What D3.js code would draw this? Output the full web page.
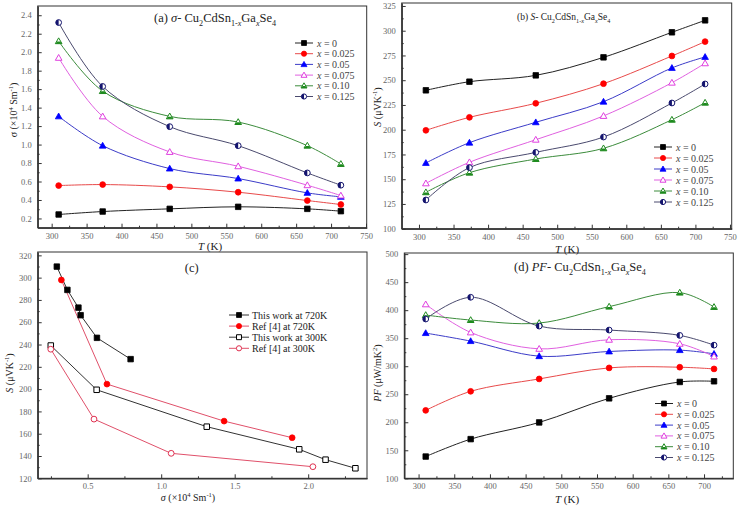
<!DOCTYPE html>
<html><head><meta charset="utf-8">
<script src="https://cdn.jsdelivr.net/npm/d3@7"></script>
<style>
body{margin:0;background:#fff}
text{font-family:"Liberation Serif","Times New Roman",serif}
</style>
</head><body>
<svg id="chart" width="739" height="508"></svg>
<script>
// ---------- DATA ----------
const temps = [310, 373, 469, 567, 666, 714];
const seriesLabels = ["0", "0.025", "0.05", "0.075", "0.10", "0.125"];

const sigmaSeries = [
  [0.243, 0.275, 0.304, 0.326, 0.304, 0.279],
  [0.556, 0.567, 0.542, 0.484, 0.394, 0.351],
  [1.305, 0.988, 0.740, 0.632, 0.477, 0.434],
  [1.939, 1.305, 0.920, 0.765, 0.560, 0.448],
  [2.119, 1.579, 1.305, 1.244, 0.988, 0.790],
  [2.321, 1.629, 1.194, 0.988, 0.693, 0.560]
];
const seebeckSeries = [
  [239.8, 248.5, 254.9, 273.1, 298.4, 310.5],
  [199.4, 212.5, 226.7, 246.5, 274.5, 289.0],
  [166.4, 186.9, 207.5, 228.3, 262.4, 273.5],
  [145.8, 167.1, 189.9, 213.9, 247.5, 267.1],
  [136.8, 156.6, 170.4, 181.2, 210.1, 227.3],
  [129.0, 161.7, 177.1, 192.6, 227.0, 246.2]
];
const pfSeries = [
  [138.8, 169.9, 199.7, 242.7, 271.9, 273.1],
  [221.2, 255.2, 277.3, 297.0, 298.2, 295.2],
  [359.1, 344.8, 317.9, 326.3, 328.7, 322.1],
  [410.4, 360.3, 331.0, 347.2, 340.0, 317.3],
  [391.3, 382.4, 377.0, 406.3, 431.3, 405.7],
  [384.2, 423.0, 371.6, 364.5, 355.0, 337.6]
];

// panel (c)
const cLabels = ["This work at 720K", "Ref [4] at 720K", "This work at 300K", "Ref [4] at 300K"];
const this720Sigma = [0.290, 0.362, 0.437, 0.452, 0.563, 0.792];
const this720S     = [309.9, 289.0, 273.1, 266.3, 246.0, 226.9];
const ref720Sigma  = [0.321, 0.631, 1.428, 1.891];
const ref720S      = [297.9, 204.5, 171.3, 156.4];
const this300Sigma = [0.249, 0.561, 1.310, 1.939, 2.118, 2.321];
const this300S     = [239.1, 199.4, 166.3, 146.0, 136.7, 129.0];
const ref300Sigma  = [0.249, 0.543, 1.068, 2.032];
const ref300S      = [235.8, 173.1, 142.4, 130.4];

// ticks
const tempTicksAB = [300, 350, 400, 450, 500, 550, 600, 650, 700, 750];
const tempTicksD  = [300, 350, 400, 450, 500, 550, 600, 650, 700];
const sigmaTicks  = [0.2, 0.4, 0.6, 0.8, 1.0, 1.2, 1.4, 1.6, 1.8, 2.0, 2.2, 2.4];
const seebeckTicks = [100, 125, 150, 175, 200, 225, 250, 275, 300, 325];
const cYTicks = [120, 140, 160, 180, 200, 220, 240, 260, 280, 300, 320];
const cXTicks = [0.5, 1.0, 1.5, 2.0];
const pfTicks = [100, 150, 200, 250, 300, 350, 400, 450, 500];

// ---------- STYLES ----------
const seriesStyle = [
  {stroke: "#000000", line: "#222222", shape: "square", fill: "full"},
  {stroke: "#ff0000", line: "#e84a4a", shape: "circle", fill: "full"},
  {stroke: "#0000ff", line: "#3c3cc8", shape: "triangle", fill: "full"},
  {stroke: "#e040e0", line: "#e060e0", shape: "triangle", fill: "open"},
  {stroke: "#1e8a1e", line: "#3c8c3c", shape: "triangle", fill: "half"},
  {stroke: "#14146e", line: "#4a4a6e", shape: "circle", fill: "half"}
];
const cStyle = [
  {stroke: "#000000", line: "#333333", shape: "square", fill: "full"},
  {stroke: "#ff0000", line: "#e0506a", shape: "circle", fill: "full"},
  {stroke: "#000000", line: "#333333", shape: "square", fill: "open"},
  {stroke: "#e03050", line: "#e0506a", shape: "circle", fill: "open"}
];

const svg = d3.select("#chart");
svg.append("rect").attr("width", 739).attr("height", 508).attr("fill", "#fff");

// ---------- HELPERS ----------
function marker(g, cx, cy, st, r) {
  r = r || 2.9;
  const m = g.append("g").attr("transform", `translate(${cx},${cy})`);
  let outline, half;
  if (st.shape === "square") {
    const s = r * 0.95;
    outline = `M${-s},${-s}H${s}V${s}H${-s}Z`;
    half = `M${-s},${-s}H0V${s}H${-s}Z`;
  } else if (st.shape === "circle") {
    outline = `M0,${-r}A${r},${r} 0 1,1 0,${r}A${r},${r} 0 1,1 0,${-r}Z`;
    half = `M0,${-r}A${r},${r} 0 0,0 0,${r}Z`;
  } else {
    const h1 = r * 1.15, h2 = r * 0.85, s = r * 1.15;
    outline = `M0,${-h1}L${s},${h2}L${-s},${h2}Z`;
    half = `M${-s*0.45},${h2*0.1}L${s*0.45},${h2*0.1}L${s},${h2}L${-s},${h2}Z`;
  }
  if (st.fill === "full") {
    m.append("path").attr("d", outline).attr("fill", st.stroke).attr("stroke", st.stroke).attr("stroke-width", 0.8);
  } else {
    m.append("path").attr("d", outline).attr("fill", "#fff");
    if (st.fill === "half") m.append("path").attr("d", half).attr("fill", st.stroke);
    m.append("path").attr("d", outline).attr("fill", "none").attr("stroke", st.stroke).attr("stroke-width", 1);
  }
}

// parts: [text, mode] mode: "" normal, "i" italic, "sub", "subi", "sup"
function rich(g, x, y, parts, size, anchor, rotate, color) {
  const t = g.append("text").attr("x", x).attr("y", y)
    .attr("font-size", size).attr("text-anchor", anchor || "start")
    .attr("fill", color || "#222");
  if (rotate) t.attr("transform", `rotate(${rotate},${x},${y})`);
  let shift = 0;
  parts.forEach(([txt, mode]) => {
    const sp = t.append("tspan").text(txt);
    let target = 0, fs = size;
    if (mode === "sub" || mode === "subi") { target = size * 0.3; fs = size * 0.65; }
    if (mode === "sup") { target = -size * 0.4; fs = size * 0.65; }
    if (target !== shift) { sp.attr("dy", target - shift); shift = target; }
    sp.attr("font-size", fs);
    if (mode === "i" || mode === "subi") sp.attr("font-style", "italic");
  });
  return t;
}

function midpoints(arr) {
  const out = [];
  for (let i = 0; i < arr.length - 1; i++) out.push((arr[i] + arr[i + 1]) / 2);
  return out;
}

function frame(g, x, y, xTicks, yTicks, xFmt, yFmt, xMinorExtra, yMinorExtra) {
  const [x0, x1] = x.range(), [y0, y1] = y.range();
  const xMinor = midpoints(xTicks).concat(xMinorExtra || []);
  const yMinor = midpoints(yTicks).concat(yMinorExtra || []);
  g.append("g").attr("transform", `translate(0,${y0})`)
    .call(d3.axisBottom(x).tickValues(xTicks).tickFormat(xFmt).tickSizeInner(-4).tickSizeOuter(0).tickPadding(5));
  g.append("g").attr("transform", `translate(0,${y0})`)
    .call(d3.axisBottom(x).tickValues(xMinor).tickFormat("").tickSizeInner(-2).tickSizeOuter(0));
  g.append("g").attr("transform", `translate(${x0},0)`)
    .call(d3.axisLeft(y).tickValues(yTicks).tickFormat(yFmt).tickSizeInner(-4).tickSizeOuter(0).tickPadding(6));
  g.append("g").attr("transform", `translate(${x0},0)`)
    .call(d3.axisLeft(y).tickValues(yMinor).tickFormat("").tickSizeInner(-2).tickSizeOuter(0));
  g.selectAll(".domain").attr("stroke", "#333").attr("stroke-width", 1);
  g.selectAll(".tick line").attr("stroke", "#333");
  g.selectAll(".tick text").attr("font-size", 8.5).attr("fill", "#666");
  g.append("rect").attr("x", x0).attr("y", y1).attr("width", x1 - x0).attr("height", y0 - y1)
    .attr("fill", "none").attr("stroke", "#333").attr("stroke-width", 1);
}

const fmt1 = d3.format(".1f");
const fmt0 = d3.format("d");

function seriesPanel(g, x, y, xs, seriesArr, curve) {
  seriesArr.forEach((vals, i) => {
    const st = seriesStyle[i];
    const pts = xs.map((t, j) => [x(t), y(vals[j])]);
    g.append("path").attr("d", d3.line().curve(curve)(pts))
      .attr("fill", "none").attr("stroke", st.line).attr("stroke-width", 1);
  });
  seriesArr.forEach((vals, i) => {
    const st = seriesStyle[i];
    xs.forEach((t, j) => marker(g, x(t), y(vals[j]), st));
  });
}

function legendX(g, lx, ly, dy, size) {
  seriesLabels.forEach((lab, i) => {
    const st = seriesStyle[i];
    const yy = ly + i * dy;
    g.append("line").attr("x1", lx).attr("x2", lx + 18).attr("y1", yy).attr("y2", yy)
      .attr("stroke", st.line).attr("stroke-width", 1);
    marker(g, lx + 9, yy, st, 2.6);
    rich(g, lx + 22, yy + size * 0.35, [["x", "i"], [" = " + lab, ""]], size, "start", 0, "#444");
  });
}

const formula = () => [
  ["Cu", ""], ["2", "sub"], ["CdSn", ""], ["1-", "sub"], ["x", "subi"], ["Ga", ""], ["x", "subi"], ["Se", ""], ["4", "sub"]
];

const curve = d3.curveCatmullRom.alpha(0.5);

// ---------- PANEL (a) ----------
{
  const g = svg.append("g");
  const x = d3.scaleLinear().domain([280, 751]).range([37.7, 366.7]);
  const y = d3.scaleLinear().domain([0.1, 2.5]).range([227.7, 6]);
  frame(g, x, y, tempTicksAB, sigmaTicks, fmt0, fmt1);
  seriesPanel(g, x, y, temps, sigmaSeries, curve);
  legendX(g, 295, 43, 10.7, 10);
  rich(g, 154, 22, [["(a)  ", ""], ["σ", "i"], ["- ", ""]].concat(formula()), 12.5, "start");
  rich(g, 210, 250, [["T", "i"], [" (K)", ""]], 11, "middle");
  rich(g, 17, 110, [["σ (×10", ""], ["4", "sup"], [" Sm", ""], ["-1", "sup"], [")", ""]], 10, "middle", -90);
}

// ---------- PANEL (b) ----------
{
  const g = svg.append("g");
  const x = d3.scaleLinear().domain([275, 752.5]).range([401.7, 731.7]);
  const y = d3.scaleLinear().domain([100, 328]).range([228.7, 3]);
  frame(g, x, y, tempTicksAB, seebeckTicks, fmt0, fmt0);
  seriesPanel(g, x, y, temps, seebeckSeries, curve);
  legendX(g, 654, 147, 11, 10);
  rich(g, 517, 20, [["(b) ", ""], ["S", "i"], ["- ", ""]].concat(formula()), 9.5, "start");
  rich(g, 567, 253, [["T", "i"], [" (K)", ""]], 11, "middle");
  rich(g, 381, 107, [["S", "i"], [" (μVK", ""], ["-1", "sup"], [")", ""]], 10, "middle", -90);
}

// ---------- PANEL (c) ----------
{
  const g = svg.append("g");
  const x = d3.scaleLinear().domain([0.16, 2.4]).range([37.7, 367]);
  const y = d3.scaleLinear().domain([120, 323]).range([478.3, 252]);
  frame(g, x, y, cXTicks, cYTicks, fmt1, fmt0, [0.25, 2.25]);
  const sets = [[this720Sigma, this720S], [ref720Sigma, ref720S], [this300Sigma, this300S], [ref300Sigma, ref300S]];
  sets.forEach(([sx, sy], i) => {
    const pts = sx.map((v, j) => [x(v), y(sy[j])]);
    g.append("path").attr("d", d3.line()(pts)).attr("fill", "none")
      .attr("stroke", cStyle[i].line).attr("stroke-width", 1);
  });
  sets.forEach(([sx, sy], i) => sx.forEach((v, j) => marker(g, x(v), y(sy[j]), cStyle[i])));
  cLabels.forEach((lab, i) => {
    const yy = 315 + i * 11.1;
    g.append("line").attr("x1", 229).attr("x2", 249).attr("y1", yy).attr("y2", yy)
      .attr("stroke", cStyle[i].line).attr("stroke-width", 1);
    marker(g, 239, yy, cStyle[i], 2.6);
    rich(g, 252, yy + 3.5, [[lab, ""]], 10, "start", 0, "#222");
  });
  rich(g, 191.7, 272, [["(c)", ""]], 12.5, "middle");
  rich(g, 188, 501, [["σ", "i"], [" (×10", ""], ["4", "sup"], [" Sm", ""], ["-1", "sup"], [")", ""]], 10, "middle");
  rich(g, 13, 373, [["S", "i"], [" (μVK", ""], ["-1", "sup"], [")", ""]], 10, "middle", -90);
}

// ---------- PANEL (d) ----------
{
  const g = svg.append("g");
  const x = d3.scaleLinear().domain([280, 741]).range([404.3, 733.3]);
  const y = d3.scaleLinear().domain([100, 502]).range([478.3, 253]);
  frame(g, x, y, tempTicksD, pfTicks, fmt0, fmt0, [725]);
  seriesPanel(g, x, y, temps, pfSeries, curve);
  legendX(g, 655, 403.5, 10.8, 10);
  rich(g, 514, 271, [["(d) ", ""], ["PF", "i"], ["- ", ""]].concat(formula()), 12.5, "start");
  rich(g, 567, 503, [["T", "i"], [" (K)", ""]], 11, "middle");
  rich(g, 381, 373, [["PF", "i"], [" (μW/mK", ""], ["2", "sup"], [")", ""]], 10, "middle", -90);
}
</script>
</body></html>
